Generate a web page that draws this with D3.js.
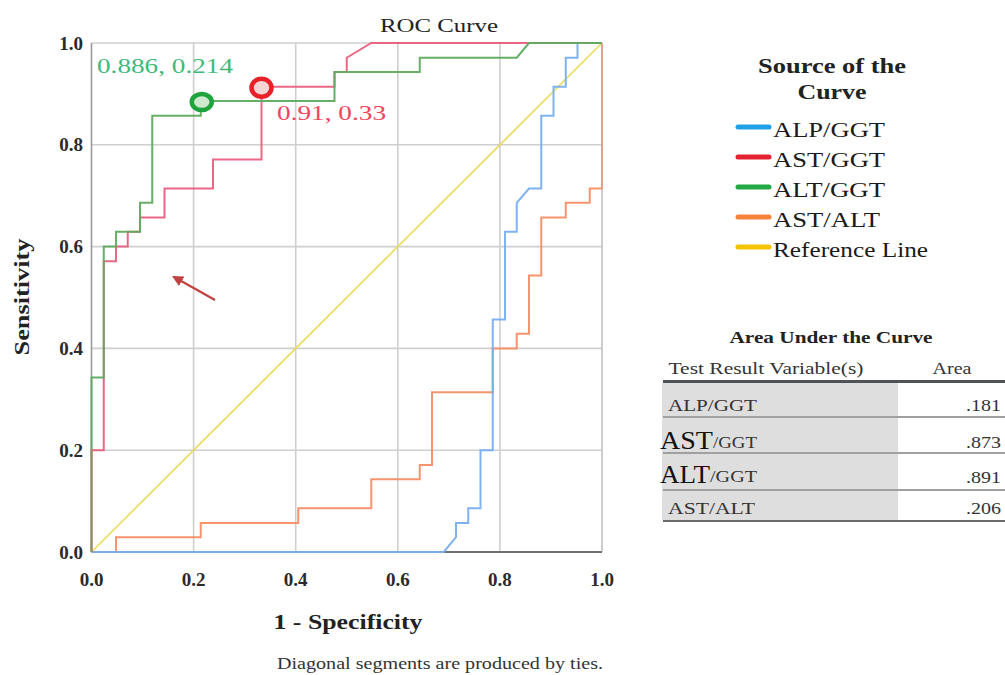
<!DOCTYPE html>
<html><head><meta charset="utf-8">
<script src="https://cdn.jsdelivr.net/npm/d3@7"></script>
<style>
html,body{margin:0;padding:0;background:#fff;}
svg{display:block;font-family:"Liberation Serif","Times New Roman",serif;}
</style></head>
<body><svg id="c" width="1005" height="675"></svg>
<script>
// ---- data ----
const ticks = [0.0, 0.2, 0.4, 0.6, 0.8, 1.0];
const tickLabels = ["0.0", "0.2", "0.4", "0.6", "0.8", "1.0"];

const alpGgtX = [0, 0.690, 0.714, 0.714, 0.738, 0.738, 0.762, 0.762, 0.786, 0.786, 0.810, 0.810, 0.833, 0.833, 0.857, 0.881, 0.881, 0.905, 0.905, 0.929, 0.929, 0.952, 0.952, 1];
const alpGgtY = [0, 0, 0.029, 0.057, 0.057, 0.086, 0.086, 0.200, 0.200, 0.457, 0.457, 0.629, 0.629, 0.686, 0.714, 0.714, 0.857, 0.857, 0.914, 0.914, 0.971, 0.971, 1, 1];

const astGgtX = [0, 0, 0.024, 0.024, 0.048, 0.048, 0.071, 0.071, 0.095, 0.095, 0.143, 0.143, 0.238, 0.238, 0.333, 0.333, 0.476, 0.476, 0.500, 0.500, 0.548, 1];
const astGgtY = [0, 0.200, 0.200, 0.571, 0.571, 0.600, 0.600, 0.629, 0.629, 0.657, 0.657, 0.714, 0.714, 0.771, 0.771, 0.914, 0.914, 0.943, 0.943, 0.971, 1, 1];

const altGgtX = [0, 0, 0.024, 0.024, 0.048, 0.048, 0.095, 0.095, 0.119, 0.119, 0.214, 0.214, 0.476, 0.476, 0.643, 0.643, 0.833, 0.857, 1];
const altGgtY = [0, 0.343, 0.343, 0.600, 0.600, 0.629, 0.629, 0.686, 0.686, 0.857, 0.857, 0.886, 0.886, 0.943, 0.943, 0.971, 0.971, 1, 1];

const astAltX = [0, 0.048, 0.048, 0.214, 0.214, 0.405, 0.405, 0.548, 0.548, 0.643, 0.643, 0.667, 0.667, 0.786, 0.786, 0.833, 0.833, 0.857, 0.857, 0.881, 0.881, 0.929, 0.929, 0.976, 0.976, 1, 1];
const astAltY = [0, 0, 0.029, 0.029, 0.057, 0.057, 0.086, 0.086, 0.143, 0.143, 0.171, 0.171, 0.314, 0.314, 0.400, 0.400, 0.429, 0.429, 0.543, 0.543, 0.657, 0.657, 0.686, 0.686, 0.714, 0.714, 1];

const refX = [0, 1];
const refY = [0, 1];

const seriesNames = ["ALP/GGT", "AST/GGT", "ALT/GGT", "AST/ALT", "Reference Line"];
const lineColors = ["#78aef0", "#e8607e", "#5fab5f", "#f58e66", "#e8dc58"];
const legendColors = ["#22a2e6", "#e52230", "#22a845", "#f7823a", "#f5c400"];

const aucNames = ["ALP/GGT", "AST/GGT", "ALT/GGT", "AST/ALT"];
const aucValues = [".181", ".873", ".891", ".206"];

const cut1 = {sens: 0.886, fpr: 0.214, label: "0.886, 0.214"};
const cut2 = {sens: 0.914, fpr: 0.333, label: "0.91, 0.33"};

// ---- drawing ----
const FONT = "'Liberation Serif','Times New Roman',serif";
const svg = d3.select("#c");
const x = d3.scaleLinear().domain([0, 1]).range([91.5, 602]);
const y = d3.scaleLinear().domain([0, 1]).range([552, 43]);

function txt(parent, s, px, py, size, opts = {}) {
  const t = parent.append("text").attr("x", px).attr("y", py).attr("dy", "0.35em")
    .attr("font-family", FONT).attr("font-size", size)
    .attr("fill", opts.fill || "#222")
    .attr("text-anchor", opts.anchor || "start")
    .attr("font-weight", opts.bold ? "bold" : "normal")
    .text(s);
  if (opts.len) t.attr("textLength", opts.len).attr("lengthAdjust", "spacingAndGlyphs");
  return t;
}

// grid
const g = svg.append("g");
g.selectAll(".vg").data(ticks.slice(1)).join("line")
  .attr("x1", d => x(d)).attr("x2", d => x(d)).attr("y1", y(0)).attr("y2", y(1))
  .attr("stroke", "#cfcfcf").attr("stroke-width", 1.6);
g.selectAll(".hg").data(ticks.slice(1)).join("line")
  .attr("x1", x(0)).attr("x2", x(1)).attr("y1", d => y(d)).attr("y2", d => y(d))
  .attr("stroke", "#cfcfcf").attr("stroke-width", 1.6);
g.append("line").attr("x1", x(0)).attr("x2", x(0)).attr("y1", y(0)).attr("y2", y(1))
  .attr("stroke", "#9a9a9a").attr("stroke-width", 1.6);
g.append("line").attr("x1", x(0)).attr("x2", x(1)).attr("y1", y(0)).attr("y2", y(0))
  .attr("stroke", "#707070").attr("stroke-width", 1.8);

// tick labels
ticks.forEach((d, i) => {
  txt(svg, tickLabels[i], 83, y(d), 19, {anchor: "end", bold: true, fill: "#2a2a2a"});
  txt(svg, tickLabels[i], x(d), 579, 19, {anchor: "middle", bold: true, fill: "#2a2a2a"});
});

// titles
txt(svg, "ROC Curve", 439, 25, 19, {anchor: "middle", len: 118});
txt(svg, "1 - Specificity", 348, 622, 21, {anchor: "middle", bold: true, len: 149});
svg.append("g").attr("transform", "translate(22,297) rotate(-90)")
  .call(gg => txt(gg, "Sensitivity", 0, 0, 20, {anchor: "middle", bold: true, len: 117}));
txt(svg, "Diagonal segments are produced by ties.", 440, 663, 16, {anchor: "middle", fill: "#333", len: 326});

// curves
const series = [
  {xs: refX, ys: refY, c: 4},
  {xs: astAltX, ys: astAltY, c: 3},
  {xs: alpGgtX, ys: alpGgtY, c: 0},
  {xs: astGgtX, ys: astGgtY, c: 1},
  {xs: altGgtX, ys: altGgtY, c: 2}
];
const line = d3.line().x(d => x(d[0])).y(d => y(d[1]));
series.forEach(s => {
  const pts = s.xs.map((v, j) => [v, s.ys[j]]);
  svg.append("path").attr("d", line(pts)).attr("fill", "none")
    .attr("stroke", lineColors[s.c])
    .attr("stroke-width", s.c === 4 ? 1.7 : 2)
    .attr("stroke-opacity", 0.95);
});

// right border
svg.append("line").attr("x1", x(1)).attr("x2", x(1)).attr("y1", y(0)).attr("y2", y(1))
  .attr("stroke", "#bdbdbd").attr("stroke-width", 1.2).attr("opacity", 0.6);

// cut-off markers
svg.append("ellipse").attr("cx", x(cut1.fpr) + 1).attr("cy", y(cut1.sens) + 1).attr("rx", 10).attr("ry", 8)
  .attr("fill", "#cfe9cf").attr("stroke", "#1ea33d").attr("stroke-width", 4.5);
svg.append("ellipse").attr("cx", x(cut2.fpr)).attr("cy", y(cut2.sens) + 1).attr("rx", 10).attr("ry", 9)
  .attr("fill", "#f7d5d5").attr("stroke", "#ea2028").attr("stroke-width", 4.5);
txt(svg, cut1.label, 97, 66, 21, {fill: "#3fb97a", len: 136});
txt(svg, cut2.label, 277, 113, 21, {fill: "#f0465a", len: 109});

// arrow
const defs = svg.append("defs");
defs.append("marker").attr("id", "ah").attr("viewBox", "0 0 10 10").attr("refX", 8).attr("refY", 5)
  .attr("markerWidth", 5).attr("markerHeight", 5).attr("orient", "auto")
  .append("path").attr("d", "M0,0 L10,5 L0,10 z").attr("fill", "#c0413f");
svg.append("line").attr("x1", 215).attr("y1", 300).attr("x2", 174).attr("y2", 277)
  .attr("stroke", "#c0413f").attr("stroke-width", 2.2).attr("marker-end", "url(#ah)");

// legend
txt(svg, "Source of the", 832, 66, 21, {anchor: "middle", bold: true, len: 148});
txt(svg, "Curve", 832, 92, 21, {anchor: "middle", bold: true, len: 69});
const legLens = [112, 112, 112, 107, 155];
seriesNames.forEach((d, i) => {
  const yy = 128 + i * 30;
  svg.append("line").attr("x1", 738).attr("x2", 769).attr("y1", yy - 1).attr("y2", yy - 1)
    .attr("stroke", legendColors[i]).attr("stroke-width", 5).attr("stroke-linecap", "round");
  txt(svg, d, 773, yy + 1, 22, {fill: "#1a1a1a", len: legLens[i]});
});

// AUC table
txt(svg, "Area Under the Curve", 831, 337, 16, {anchor: "middle", bold: true, len: 203});
txt(svg, "Test Result Variable(s)", 766, 368, 17, {anchor: "middle", fill: "#333", len: 195});
txt(svg, "Area", 952, 368, 17, {anchor: "middle", fill: "#333", len: 39});
svg.append("rect").attr("x", 662).attr("y", 383).attr("width", 236).attr("height", 137).attr("fill", "#dedede");
svg.append("line").attr("x1", 663).attr("x2", 1005).attr("y1", 381.5).attr("y2", 381.5)
  .attr("stroke", "#4f5358").attr("stroke-width", 3);
const rowSep = [417, 453, 490];
svg.selectAll(".rs").data(rowSep).join("line")
  .attr("x1", 663).attr("x2", 1005).attr("y1", d => d).attr("y2", d => d)
  .attr("stroke", "#a0a0a0").attr("stroke-width", 2);
svg.append("line").attr("x1", 663).attr("x2", 1005).attr("y1", 521).attr("y2", 521)
  .attr("stroke", "#6a6a6a").attr("stroke-width", 2);
const rowY = [405, 440, 474, 508];
const valY = [405, 442, 477, 508];
const nameLens = [89, 97, 97, 87];
aucNames.forEach((n, i) => {
  if (i === 1 || i === 2) {
    const parts = n.split("/");
    txt(svg, parts[0], 660, rowY[i], 26, {fill: "#111", len: i === 1 ? 53 : 50});
    txt(svg, "/" + parts[1], i === 1 ? 713 : 710, rowY[i] + 2, 17, {fill: "#333", len: i === 1 ? 44 : 47});
  } else {
    txt(svg, n, 668, rowY[i], 17, {fill: "#333", len: nameLens[i]});
  }
  txt(svg, aucValues[i], 1001, valY[i], 17, {anchor: "end", fill: "#333", len: 35});
});
</script></body></html>
